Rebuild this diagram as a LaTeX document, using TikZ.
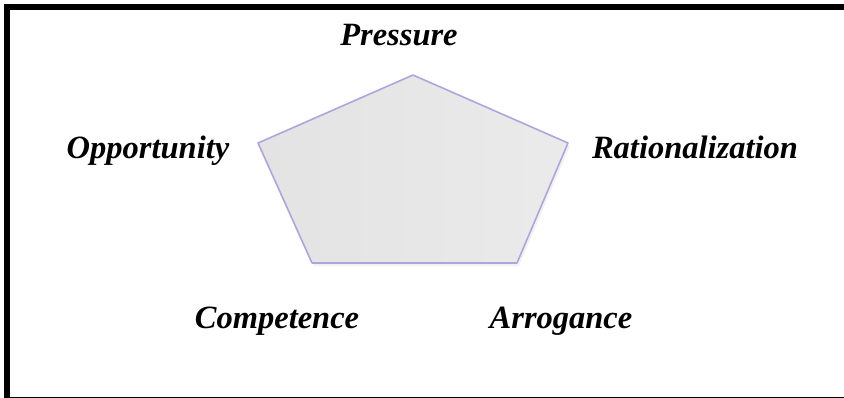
\documentclass[tikz,border=0pt]{standalone}
\usepackage{fontspec}
\setmainfont{Liberation Serif}
\usetikzlibrary{calc}
\definecolor{edgepurple}{HTML}{B3A3DA}
\tikzset{
  lbl/.style={font=\fontsize{32.5}{32.5}\selectfont\bfseries\itshape, anchor=base, inner sep=0pt},
}
\begin{document}
\begin{tikzpicture}[x=1pt,y=-1pt]
\useasboundingbox (0,0) rectangle (844,397);
\draw[line width=6pt] (7,7) rectangle (860,400);
\coordinate (T) at (413,75);
\coordinate (L) at (258,143);
\coordinate (R) at (568,143);
\coordinate (BL) at (312,263);
\coordinate (BR) at (517,263);
\fill[black!10, opacity=0.5] ($(T)+(2,3)$) -- ($(R)+(2,3)$) -- ($(BR)+(2,3)$) -- ($(BL)+(2,3)$) -- ($(L)+(2,3)$) -- cycle;
\shade[left color=black!11, right color=black!8, draw=edgepurple, line width=1.6pt, line join=round]
  (T) -- (R) -- (BR) -- (BL) -- (L) -- cycle;
\node[lbl] (pressure) at (399,45) {Pressure};
\node[lbl] (opportunity) at (148,158) {Opportunity};
\node[lbl] (rational) at (695,158) {Rationalization};
\node[lbl] (competence) at (277,328) {Competence};
\node[lbl] (arrogance) at (561,328) {Arrogance};
\end{tikzpicture}
\end{document}
